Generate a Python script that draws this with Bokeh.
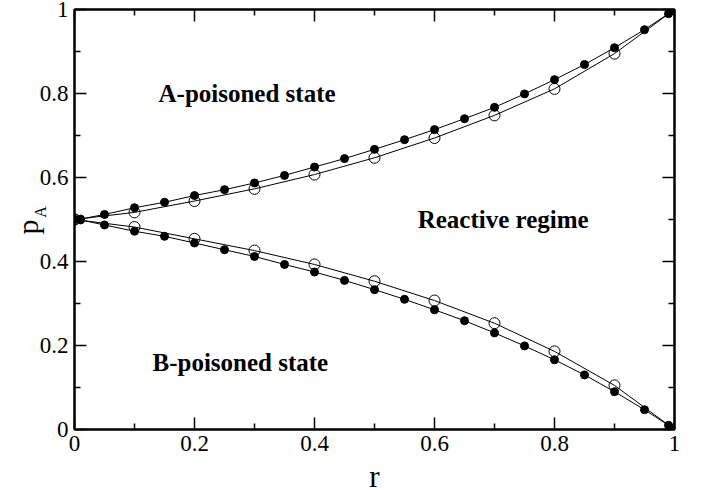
import math
from bokeh.plotting import figure
from bokeh.models import Range1d, FixedTicker, LinearAxis, Label
from bokeh.embed import file_html
from bokeh.resources import INLINE

# ---- data ----
r_fine = [0.0, 0.01, 0.05, 0.10, 0.15, 0.20, 0.25, 0.30, 0.35, 0.40, 0.45, 0.50,
          0.55, 0.60, 0.65, 0.70, 0.75, 0.80, 0.85, 0.90, 0.95, 0.99, 1.0]
pA_upper_filled = [0.500, 0.501, 0.512, 0.528, 0.541, 0.557, 0.571, 0.587, 0.605, 0.625,
                   0.645, 0.667, 0.690, 0.714, 0.740, 0.767, 0.799, 0.833, 0.869, 0.909,
                   0.952, 0.990, 1.000]
pA_lower_filled = [0.500, 0.499, 0.487, 0.472, 0.460, 0.444, 0.428, 0.412, 0.393, 0.375,
                   0.355, 0.333, 0.310, 0.285, 0.259, 0.230, 0.199, 0.166, 0.130, 0.090,
                   0.047, 0.010, 0.000]

r_coarse = [0.0, 0.1, 0.2, 0.3, 0.4, 0.5, 0.6, 0.7, 0.8, 0.9, 1.0]
pA_upper_open = [0.500, 0.517, 0.544, 0.573, 0.607, 0.647, 0.694, 0.748, 0.811, 0.895, 1.000]
pA_lower_open = [0.500, 0.482, 0.454, 0.426, 0.393, 0.353, 0.307, 0.253, 0.186, 0.105, 0.000]

major_ticks = [0.0, 0.2, 0.4, 0.6, 0.8, 1.0]
minor_ticks = [0.1, 0.3, 0.5, 0.7, 0.9]
tick_labels = ["0", "0.2", "0.4", "0.6", "0.8", "1"]

region_texts = ["A-poisoned state", "B-poisoned state", "Reactive regime"]
region_x = [0.14, 0.13, 0.572]
region_y = [0.80, 0.16, 0.50]

SERIF = "Liberation Serif"

p = figure(width=701, height=490, x_range=Range1d(0, 1), y_range=Range1d(0, 1),
           output_backend="svg", toolbar_location=None,
           min_border_left=74, min_border_right=27, min_border_top=9, min_border_bottom=61,
           background_fill_color="white", border_fill_color="white")
p.grid.visible = False
p.outline_line_color = "black"
p.outline_line_width = 2

overrides = {t: l for t, l in zip(major_ticks, tick_labels)}
blank = {t: "" for t in major_ticks}

def style_axis(ax, show_labels):
    ax.ticker = FixedTicker(ticks=major_ticks, minor_ticks=minor_ticks)
    ax.axis_line_width = 2
    ax.axis_line_color = "black"
    ax.major_tick_in = 12
    ax.major_tick_out = 0
    ax.minor_tick_in = 6
    ax.minor_tick_out = 0
    ax.major_tick_line_width = 1.5
    ax.minor_tick_line_width = 1.5
    ax.major_tick_line_color = "black"
    ax.minor_tick_line_color = "black"
    ax.major_label_text_font = SERIF
    ax.major_label_text_color = "black"
    if show_labels:
        ax.major_label_overrides = overrides
        ax.major_label_text_font_size = "23px"
        ax.major_label_standoff = 6
    else:
        ax.major_label_overrides = blank
        ax.major_label_text_font_size = "10px"
        ax.major_label_standoff = 0

style_axis(p.xaxis[0], True)
style_axis(p.yaxis[0], True)
top_ax = LinearAxis()
right_ax = LinearAxis()
style_axis(top_ax, False)
style_axis(right_ax, False)
p.add_layout(top_ax, "above")
p.add_layout(right_ax, "right")

# lines
p.line(r_fine, pA_upper_filled, line_color="black", line_width=1)
p.line(r_fine, pA_lower_filled, line_color="black", line_width=1)
p.line(r_coarse, pA_upper_open, line_color="black", line_width=1)
p.line(r_coarse, pA_lower_open, line_color="black", line_width=1)

# open circles
for ys in (pA_upper_open, pA_lower_open):
    p.scatter(r_coarse, ys, marker="circle", size=11, fill_color=None,
              line_color="black", line_width=1)
# filled circles
for ys in (pA_upper_filled, pA_lower_filled):
    p.scatter(r_fine, ys, marker="circle", size=8, fill_color="black",
              line_color="black", line_width=1)

# region texts
for t, x, y in zip(region_texts, region_x, region_y):
    p.add_layout(Label(x=x, y=y, text=t, text_font=SERIF, text_font_style="bold",
                       text_font_size="25px", text_color="black",
                       text_align="left", text_baseline="alphabetic"))

# axis titles (placed in side panels so they are not clipped to the frame;
# positions are in data units, mapped through the frame scales)
p.add_layout(Label(x=-0.079, y=0.482, text="p", text_font=SERIF, text_font_size="30px",
                   text_color="black", text_align="center", text_baseline="alphabetic",
                   angle=math.pi / 2), "left")
p.add_layout(Label(x=-0.057, y=0.518, text="A", text_font=SERIF, text_font_size="16px",
                   text_color="black", text_align="center", text_baseline="alphabetic",
                   angle=math.pi / 2), "right")
p.add_layout(Label(x=0.5, y=-0.112, text="r", text_font=SERIF, text_font_size="31px",
                   text_color="black", text_align="center", text_baseline="alphabetic"),
             "right")

open("out.html", "w").write(file_html(p, INLINE))
